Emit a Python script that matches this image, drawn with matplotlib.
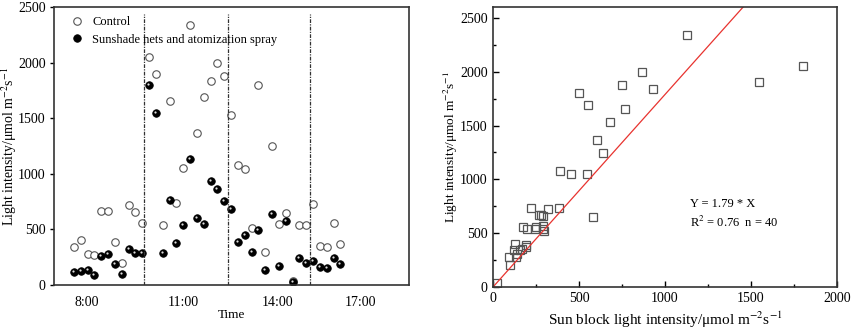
import matplotlib
matplotlib.use("Agg")
import matplotlib.pyplot as plt
import matplotlib.transforms as mtransforms
import numpy as np
from matplotlib.ticker import MultipleLocator

plt.rcParams['font.family'] = ['Liberation Serif', 'DejaVu Serif']
plt.rcParams['mathtext.fontset'] = 'stix'
plt.rcParams['font.size'] = 10

# ---- data ----
control = [339, 402, 279, 273, 669, 669, 390, 201, 723, 657, 561, 2057, 1904, 540,
           1652, 735, 1049, 2344, 1364, 1691, 1841, 1997, 1880, 1532, 1079, 1046,
           516, 1805, 300, 1247, 552, 651, 33, 540, 540, 731, 351, 345, 555, 372]
shade = [120, 129, 135, 90, 264, 279, 189, 99, 321, 291, 288, 1802, 1550, 291,
         765, 381, 543, 1130, 606, 549, 932, 866, 752, 681, 390, 450, 297, 498,
         138, 639, 174, 579, 24, 240, 195, 219, 165, 156, 246, 189]
sample_index = list(range(len(control)))
time_labels = ["8:00", "11:00", "14:00", "17:00"]
time_label_index = [1.85, 16.0, 29.8, 42.0]
period_breaks = [10.3, 22.5, 34.55]
slope = 1.79
r2 = 0.76

W, H = 851, 332
fig = plt.figure(figsize=(W / 100, H / 100), dpi=100)

ax1 = fig.add_axes([54 / W, 1 - 285 / H, 355 / W, 277.7 / H])
ax2 = fig.add_axes([493.3 / W, 1 - 286.7 / H, 343.4 / W, 279.4 / H])

spine_c = '#333333'
for ax in (ax1, ax2):
    for s in ax.spines.values():
        s.set_linewidth(1.2)
        s.set_color(spine_c)

sup = r'Light intensity/μmol m$^{-2}$s$^{-1}$'

# ---- left plot ----
ax1.plot(sample_index, control, linestyle='none', marker='o', markersize=5.4,
         markerfacecolor='white', markeredgecolor='#555555', markeredgewidth=0.8,
         label='Control')
ax1.plot(sample_index, shade, linestyle='none', marker='o', markersize=5.4,
         markerfacecolor='black', markeredgecolor='black', markeredgewidth=0.6,
         label='Sunshade nets and atomization spray')
hl = mtransforms.offset_copy(ax1.transData, fig=fig, x=-1.0, y=1.0, units='dots')
ax1.plot(sample_index, shade, linestyle='none', marker='o', markersize=1.6,
         markerfacecolor='#dddddd', markeredgewidth=0, transform=hl)
for b in period_breaks:
    ax1.axvline(b, ymin=0, ymax=0.975, color='#333333', linewidth=0.9,
                linestyle=(0, (3, 1, 1, 1)))
ax1.set_xlim(-2.93, 49.05)
ax1.set_ylim(0, 2500)
ax1.yaxis.set_major_locator(MultipleLocator(500))
ax1.set_xticks(time_label_index)
ax1.set_xticklabels(time_labels)
ax1.tick_params(axis='x', length=0, pad=8)
ax1.tick_params(axis='y', direction='out', length=3, width=1, pad=3)
ax1.set_xlabel('Time', fontsize=9.5, labelpad=0)
ax1.set_ylabel(sup, fontsize=10)
ax1.yaxis.set_label_coords(-0.098, 0.5)
ax1.legend(loc='upper left', frameon=False, handletextpad=0.6, fontsize=9,
           borderaxespad=0.3, bbox_to_anchor=(0.02, 1.0), labelspacing=0.45,
           handlelength=1.2)

# ---- right plot ----
ax2.plot(shade, control, linestyle='none', marker='s', markersize=5.5,
         markerfacecolor='none', markeredgecolor='#555555', markeredgewidth=0.9)
xl = np.array([0, 2000])
ax2.plot(xl, slope * xl, color='#e8332f', linewidth=0.9)
ax2.set_xlim(0, 2000)
ax2.set_ylim(0, 2602)
ax2.xaxis.set_major_locator(MultipleLocator(500))
ax2.xaxis.set_minor_locator(MultipleLocator(250))
ax2.yaxis.set_major_locator(MultipleLocator(500))
ax2.yaxis.set_minor_locator(MultipleLocator(250))
ax2.tick_params(which='both', direction='in', width=1)
ax2.tick_params(which='major', length=4)
ax2.tick_params(which='minor', length=2.5)
ax2.tick_params(axis='x', pad=4)
ax2.tick_params(axis='y', pad=4)
ax2.set_xlabel(sup.replace('Light', 'Sun block light'), fontsize=11, labelpad=3)
ax2.set_ylabel(sup, fontsize=9.5)
ax2.yaxis.set_label_coords(-0.098, 0.5)
ax2.text(1146, 770, f'Y = {slope} * X', va='center', ha='left', fontsize=9)
ax2.text(1146, 596, f'R$^2$ = {r2}  n = {len(control)}', va='center', ha='left',
         fontsize=9)

fig.savefig('out.png', dpi=100)
